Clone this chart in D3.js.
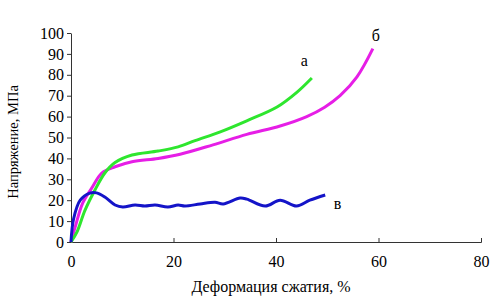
<!DOCTYPE html>
<html>
<head>
<meta charset="utf-8">
<script src="https://cdn.jsdelivr.net/npm/d3@7"></script>
<style>
  body { margin: 0; background: #fff; }
  svg text { font-family: "Times New Roman", "Liberation Serif", "DejaVu Serif", serif !important; fill: #000; }
</style>
</head>
<body>
<div id="chart"></div>
<script>
// curve a (green)
const curveA = [
  [0, 0], [1.2, 5], [2.7, 15], [4.7, 25], [6.6, 33], [8.6, 38], [11.9, 41.6],
  [17, 43.5], [20.9, 45.5], [24.2, 48.5], [29, 52.6], [34.3, 58],
  [40.2, 64.6], [44, 71.5], [47, 78.5]
];
// curve б (magenta)
const curveB = [
  [0, 0], [0.8, 7], [2.3, 18.7], [4.1, 26], [6, 33], [8.6, 36], [11.9, 38.4],
  [17, 40], [21.3, 42], [27.7, 46.5], [34.3, 51.5], [40.8, 55.5],
  [46, 60], [49.5, 64.5], [52.5, 70], [55.8, 79], [58.9, 92.5]
];
// curve в (blue)
const curveV = [
  [0, 0], [0.5, 11], [1.8, 20], [3.7, 23.4], [5, 23.5], [6.6, 21.5], [8.6, 17.7],
  [10.1, 16.7], [12.5, 17.7], [14.4, 17.2], [16.4, 17.7], [18.9, 16.7],
  [20.9, 17.7], [22.2, 17.2], [25.2, 18.2], [28.1, 19], [29.7, 18.2],
  [33, 21], [34.3, 20.5], [37.9, 17.2], [40.8, 20], [44, 17.2],
  [46.6, 20], [49.6, 22.5]
];
const curveLabels = [
  { text: "а", x: 45.5, y: 84 },
  { text: "б", x: 59.5, y: 96 },
  { text: "в", x: 52, y: 16 }
];
const xTicks = [0, 20, 40, 60, 80];
const yTicks = [0, 10, 20, 30, 40, 50, 60, 70, 80, 90, 100];

const margin = { top: 33, right: 21, bottom: 64, left: 71 };
const width = 502 - margin.left - margin.right;
const height = 306 - margin.top - margin.bottom;

const svg = d3.select("#chart")
  .append("svg")
  .attr("width", 502)
  .attr("height", 306)
  .append("g")
  .attr("transform", `translate(${margin.left},${margin.top})`);

const x = d3.scaleLinear().domain([0, 80]).range([0, width]);
const y = d3.scaleLinear().domain([0, 100]).range([height, 0]);

// axes
const xAxis = svg.append("g")
  .attr("transform", `translate(0,${height})`)
  .call(d3.axisBottom(x).tickValues(xTicks).tickSizeInner(-4).tickSizeOuter(-4).tickPadding(14));

const yAxis = svg.append("g")
  .call(d3.axisLeft(y).tickValues(yTicks).tickSizeInner(4).tickSizeOuter(0).tickPadding(3));

[xAxis, yAxis].forEach(g => {
  g.attr("font-family", null).attr("font-size", null);
  g.selectAll("path, line").attr("stroke", "#333").attr("stroke-width", 1);
  g.selectAll("text")
    .style("font-size", "16px")
    .attr("fill", "#000");
});

// lines
const line = d3.line()
  .x(d => x(d[0]))
  .y(d => y(d[1]))
  .curve(d3.curveCatmullRom.alpha(0.5));

svg.append("path").datum(curveB)
  .attr("fill", "none").attr("stroke", "#e61ee6").attr("stroke-width", 3)
  .attr("d", line);
svg.append("path").datum(curveA)
  .attr("fill", "none").attr("stroke", "#2ee62e").attr("stroke-width", 3)
  .attr("d", line);
svg.append("path").datum(curveV)
  .attr("fill", "none").attr("stroke", "#1414c8").attr("stroke-width", 3)
  .attr("d", line);

// curve labels
svg.selectAll(".clabel")
  .data(curveLabels)
  .join("text")
  .attr("class", "clabel")
  .attr("x", d => x(d.x))
  .attr("y", d => y(d.y))
  .attr("text-anchor", "middle")
  .style("font-size", "16px")
  .text(d => d.text);

// axis titles
svg.append("text")
  .attr("x", 200)
  .attr("y", height + 50)
  .attr("text-anchor", "middle")
  .style("font-size", "16px")
  .text("Деформация сжатия, %");

svg.append("text")
  .attr("transform", "rotate(-90)")
  .attr("x", -109)
  .attr("y", -53)
  .attr("text-anchor", "middle")
  .style("font-size", "14.5px")
  .text("Напряжение, МПа");
</script>
</body>
</html>
